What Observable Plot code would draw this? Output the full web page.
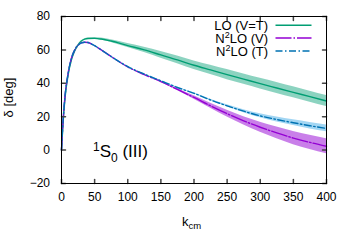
<!DOCTYPE html>
<html><head><meta charset="utf-8">
<script src="https://cdn.jsdelivr.net/npm/d3@7"></script>
<script src="https://cdn.jsdelivr.net/npm/@observablehq/plot@0.6"></script>
<style>body{margin:0;background:#fff}#chart{width:350px;height:245px}</style>
</head><body><div id="chart"></div>
<script>
// k_cm grid
const k = [0,2,5,10,15,20,25,30,35,40,50,60,75,100,125,150,175,200,225,250,275,300,325,350,375,400];
// LO (V=T)
const loVT    = [0,14,30,45,54,59.5,63,65.3,66.4,66.8,66.9,66.5,65.3,62.6,60,57,54,50.8,48,45.2,42.5,39.8,37.2,34.6,32,29.4];
const loVTerr = [0,0,0,0,0,0.05,0.1,0.15,0.2,0.3,0.5,0.6,0.8,1.2,1.6,2,2.3,2.6,2.8,3,3.1,3.2,3.3,3.3,3.3,3.3];
// N2LO (V)
const n2loV    = [0,15,31,46,55,60,62.8,64.2,64.6,64.4,62.5,60,56,49.8,45.2,41,36.3,31.5,26.5,21.8,17.5,13.7,10.3,7.2,4.6,2.3];
const n2loVerr = [0,0,0,0,0,0,0,0,0,0,0,0,0,0,0.1,0.3,0.6,1,1.5,2,2.5,3,3.5,4,4.3,4.5];
// N2LO (T)
const n2loT    = [0,15,31,46,55,60,62.8,64.2,64.6,64.4,62.5,60,56,50,45.5,41.5,37.5,34,30,26.5,23.3,20.5,18.3,16.4,14.6,13];
const n2loTerr = [0,0,0,0,0,0,0,0,0,0,0,0,0,0,0.1,0.15,0.2,0.3,0.45,0.6,0.9,1.2,1.5,1.7,1.9,2.0];

const xTicks = [0,50,100,150,200,250,300,350,400];
const yTicks = [-20,0,20,40,60,80];

const seriesLegend = [["LO (V=T)"], ["N", "2", "LO (V)"], ["N", "2", "LO (T)"]];
const lineColors = ["#009e73", "#9400d3", "#0072b2"];
const bandColors = ["#009e73", "#9400d3", "#56b4e9"];
const bandOpacity = [0.45, 0.5, 0.55];
const dashes = [null, "16,2,1.5,2", "7,2.5,1.5,2.5"];
const mids = [loVT, n2loV, n2loT];
const errs = [loVTerr, n2loVerr, n2loTerr];

const tables = mids.map((m, s) => k.map((kv, i) => ({k: kv, y: m[i], lo: m[i] - errs[s][i], hi: m[i] + errs[s][i]})));

const font = "'Liberation Sans', Arial, Helvetica, sans-serif";
const tickShape = {draw(ctx, l) { ctx.moveTo(0, 0); ctx.lineTo(0, -l); }};

const marks = [];
tables.forEach((t, s) => marks.push(Plot.areaY(t, {x: "k", y1: "lo", y2: "hi", fill: bandColors[s], fillOpacity: bandOpacity[s], curve: "monotone-x"})));
tables.forEach((t, s) => marks.push(Plot.lineY(t, {x: "k", y: "y", stroke: lineColors[s], strokeWidth: 1.4, strokeDasharray: dashes[s], curve: "monotone-x"})));
marks.push(
  Plot.axisX(xTicks, {anchor: "bottom", tickSize: 0, tickPadding: 8.5, label: null}),
  Plot.axisY(yTicks, {anchor: "left", tickSize: 0, tickPadding: 11.5, label: null}),
  Plot.vector(xTicks, {x: d => d, frameAnchor: "bottom", rotate: 0, length: 4, anchor: "start", shape: tickShape, stroke: "#444"}),
  Plot.vector(xTicks, {x: d => d, frameAnchor: "top", rotate: 180, length: 4, anchor: "start", shape: tickShape, stroke: "#444"}),
  Plot.vector(yTicks, {y: d => d, frameAnchor: "left", rotate: 90, length: 4, anchor: "start", shape: tickShape, stroke: "#444"}),
  Plot.vector(yTicks, {y: d => d, frameAnchor: "right", rotate: -90, length: 4, anchor: "start", shape: tickShape, stroke: "#444"}),
  Plot.frame({stroke: "#000", strokeWidth: 1})
);

const svg = Plot.plot({
  width: 350, height: 245,
  marginLeft: 61, marginRight: 24, marginTop: 16, marginBottom: 62,
  x: {domain: [0, 400]},
  y: {domain: [-20, 80]},
  style: {fontFamily: font, fontSize: "12px", color: "#000", background: "#fff", overflow: "visible"},
  marks
});
document.getElementById("chart").appendChild(svg);

const s = d3.select(svg);
// y label
s.append("text").attr("transform", "translate(13,97.5) rotate(-90)")
  .attr("text-anchor", "middle").attr("font-size", 13).attr("font-family", font).attr("fill", "#000")
  .text("δ [deg]");
// x label k_cm
const xl = s.append("text").attr("x", 182).attr("y", 226).attr("text-anchor", "start")
  .attr("font-size", 13).attr("font-family", font).attr("fill", "#000");
xl.append("tspan").text("k");
xl.append("tspan").attr("dy", 3).attr("font-size", 9.5).text("cm");
// annotation 1S0 (III)
const an = s.append("text").attr("x", 93).attr("y", 157.3).attr("text-anchor", "start")
  .attr("font-size", 17).attr("font-family", font).attr("fill", "#000");
an.append("tspan").attr("dy", -6).attr("font-size", 12).text("1");
an.append("tspan").attr("dy", 6).text("S");
an.append("tspan").attr("dy", 4.4).attr("font-size", 12).text("0");
an.append("tspan").attr("dy", -4.4).text(" (III)");
// legend
seriesLegend.forEach((parts, i) => {
  const y = 25.2 + i * 12.9;
  const t = s.append("text").attr("x", 268).attr("y", y + 4.7).attr("text-anchor", "end")
    .attr("font-size", 13).attr("font-family", font).attr("fill", "#000");
  if (parts.length === 3) {
    t.append("tspan").text(parts[0]);
    t.append("tspan").attr("dy", -5).attr("font-size", 9).text(parts[1]);
    t.append("tspan").attr("dy", 5).text(parts[2]);
  } else {
    t.text(parts[0]);
  }
  s.append("line").attr("x1", 275.5).attr("x2", 311.5).attr("y1", y).attr("y2", y)
    .attr("stroke", lineColors[i]).attr("stroke-width", 1.5)
    .attr("stroke-dasharray", dashes[i]);
});
</script>
</body></html>
